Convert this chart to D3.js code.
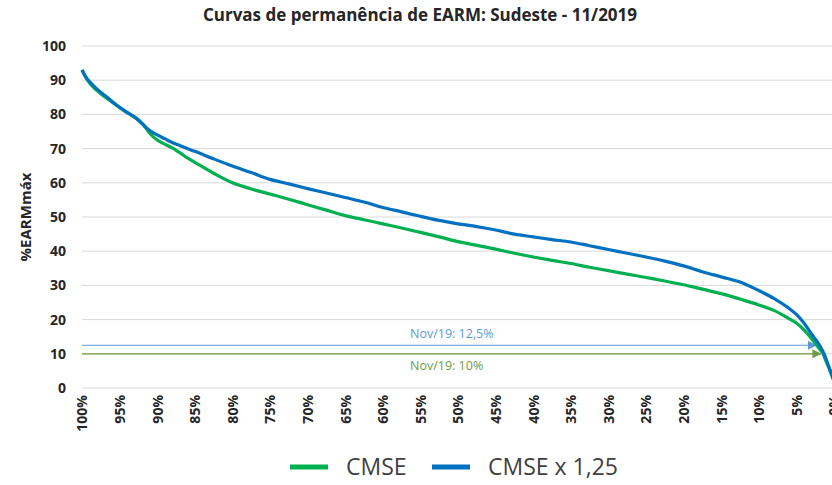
<!DOCTYPE html>
<html>
<head>
<meta charset="utf-8">
<script src="https://cdn.jsdelivr.net/npm/d3@7"></script>
<style>
  html, body { margin: 0; padding: 0; background: #fff; }
  svg { display: block; }
</style>
</head>
<body>
<svg id="chart" width="832" height="485"></svg>
<script>
// Exceedance probability (%) and stored energy (%EARMmáx) for each curve
const permanence = [100, 99.5, 99, 98, 97, 96, 95, 94, 93, 92, 91, 90, 89, 88, 87, 86, 85,
  82.5, 80, 77.5, 75, 72.5, 70, 67.5, 65, 62.5, 60, 57.5, 55, 52.5, 50, 47.5, 45,
  42.5, 40, 37.5, 35, 32.5, 30, 27.5, 25, 22.5, 20, 17.5, 15, 12.5, 10, 8, 6, 5,
  4, 3, 2, 1.5, 1, 0.5, 0];
const cmse = [93, 90.8, 89.2, 87, 85.2, 83.6, 82, 80.5, 79.2, 77.4, 74.5, 72.5, 71.3, 70.2, 68.8, 67.3, 66,
  62.8, 60, 58.2, 56.7, 55.2, 53.6, 52, 50.4, 49.2, 48, 46.8, 45.5, 44.2, 42.8, 41.7, 40.6,
  39.4, 38.3, 37.3, 36.4, 35.3, 34.3, 33.3, 32.3, 31.3, 30.2, 28.9, 27.6, 26, 24.3, 22.7, 20.3, 19,
  17, 14.5, 11.6, 10.2, 7.5, 5, 2];
const cmse125 = [93, 91, 89.6, 87.4, 85.6, 83.8, 82.1, 80.6, 79.2, 77.3, 75.3, 74, 72.9, 71.8, 70.9, 70, 69.2,
  67, 64.9, 63, 61, 59.7, 58.3, 57, 55.7, 54.4, 52.8, 51.5, 50.2, 49, 48, 47.2, 46.2,
  45, 44.2, 43.4, 42.7, 41.6, 40.5, 39.4, 38.3, 37.1, 35.7, 34, 32.5, 31, 28.5, 26.2, 23.3, 21.5,
  19, 15.8, 12.8, 10.8, 8.2, 5, 2];

const yTicks = [0, 10, 20, 30, 40, 50, 60, 70, 80, 90, 100];
const xTicks = [100, 95, 90, 85, 80, 75, 70, 65, 60, 55, 50, 45, 40, 35, 30, 25, 20, 15, 10, 5, 0];

// Reference levels for Nov/19 (value, end of arrow in % permanence, label)
const refLevels = [12.5, 10];
const refEnds = [2.4, 1.8];
const refLabels = ["Nov/19: 12,5%", "Nov/19: 10%"];

const seriesNames = ["CMSE", "CMSE x 1,25"];
const seriesColors = ["#00B050", "#0070C0"];
const refColors = ["#5B9BD5", "#6E9B48"];

const svg = d3.select("#chart");
const font = "'Open Sans', 'Noto Sans', sans-serif";

const x = d3.scaleLinear().domain([100, 0]).range([82, 834]);
const y = d3.scaleLinear().domain([0, 100]).range([388, 46]);

// Title
svg.append("text")
  .attr("x", 420).attr("y", 21)
  .attr("text-anchor", "middle")
  .attr("font-family", font).attr("font-weight", 700).attr("font-size", 17)
  .attr("fill", "#262626")
  .text("Curvas de permanência de EARM: Sudeste - 11/2019");

// Horizontal gridlines
svg.append("g")
  .selectAll("line")
  .data(yTicks)
  .join("line")
  .attr("x1", x(100)).attr("x2", 832)
  .attr("y1", d => y(d)).attr("y2", d => y(d))
  .attr("stroke", "#d9d9d9").attr("stroke-width", 1);

// Y axis labels
const yAxis = d3.axisLeft(y).tickValues(yTicks).tickSize(0).tickPadding(0);
const gy = svg.append("g").attr("transform", "translate(66,0)").call(yAxis);
gy.select(".domain").remove();
gy.selectAll("text")
  .attr("font-family", font).attr("font-weight", 700).attr("font-size", 14)
  .attr("fill", "#262626");

// X axis labels, rotated
const xAxis = d3.axisBottom(x).tickValues(xTicks).tickSize(0).tickPadding(0)
  .tickFormat(d => d + "%");
const gx = svg.append("g").attr("transform", "translate(0,395)").call(xAxis);
gx.select(".domain").remove();
gx.selectAll("text")
  .attr("font-family", font).attr("font-weight", 700).attr("font-size", 14)
  .attr("fill", "#262626")
  .attr("text-anchor", "end")
  .attr("dy", "0.35em")
  .attr("y", 0)
  .attr("transform", "rotate(-90)");

// Y axis title
svg.append("text")
  .attr("transform", "translate(31,217) rotate(-90)")
  .attr("text-anchor", "middle")
  .attr("font-family", font).attr("font-weight", 700).attr("font-size", 15)
  .attr("fill", "#262626")
  .text("%EARMmáx");

// Reference arrows
const defs = svg.append("defs");
refColors.forEach((c, i) => {
  defs.append("marker")
    .attr("id", "arrow" + i)
    .attr("viewBox", "0 0 10 10")
    .attr("refX", 9).attr("refY", 5)
    .attr("markerWidth", 9).attr("markerHeight", 9)
    .attr("markerUnits", "userSpaceOnUse")
    .attr("orient", "auto")
    .append("path")
    .attr("d", "M0,0 L10,5 L0,10 Z")
    .attr("fill", c);
});

svg.append("g")
  .selectAll("line")
  .data(refLevels)
  .join("line")
  .attr("x1", x(100)).attr("x2", (d, i) => x(refEnds[i]))
  .attr("y1", d => y(d)).attr("y2", d => y(d))
  .attr("stroke", (d, i) => refColors[i]).attr("stroke-width", 1.2)
  .attr("marker-end", (d, i) => `url(#arrow${i})`);

svg.append("g")
  .selectAll("text")
  .data(refLevels)
  .join("text")
  .attr("x", 410)
  .attr("y", (d, i) => i === 0 ? y(d) - 7 : y(d) + 16)
  .attr("font-family", font).attr("font-size", 12.5)
  .attr("fill", (d, i) => refColors[i])
  .text((d, i) => refLabels[i]);

// Permanence curves
const line = d3.line()
  .x((d, i) => x(permanence[i]))
  .y(d => y(d))
  .curve(d3.curveMonotoneX);

[cmse, cmse125].forEach((vals, i) => {
  svg.append("path")
    .datum(vals)
    .attr("d", line)
    .attr("fill", "none")
    .attr("stroke", seriesColors[i])
    .attr("stroke-width", 3.2)
    .attr("stroke-linejoin", "round");
});

// Legend
const legendX = [290, 432];
const legend = svg.append("g");
seriesNames.forEach((name, i) => {
  legend.append("line")
    .attr("x1", legendX[i]).attr("x2", legendX[i] + 38)
    .attr("y1", 467).attr("y2", 467)
    .attr("stroke", seriesColors[i]).attr("stroke-width", 5);
  legend.append("text")
    .attr("x", legendX[i] + 56).attr("y", 475)
    .attr("font-family", font).attr("font-size", 23)
    .attr("fill", "#404040")
    .text(name);
});
</script>
</body>
</html>
